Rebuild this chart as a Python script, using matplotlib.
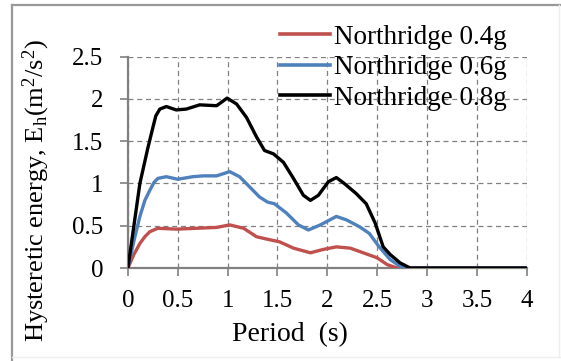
"""Hysteretic energy vs period for Northridge records at three PGA levels."""

import matplotlib
matplotlib.use("Agg")
import matplotlib.pyplot as plt
from matplotlib.lines import Line2D

# period (s) and hysteretic energy Eh (m^2/s^2)
period_04 = [0.0, 0.06, 0.12, 0.17, 0.22, 0.30, 0.485, 0.69, 0.89, 1.02, 1.16,
             1.29, 1.40, 1.52, 1.66, 1.83, 1.96, 2.09, 2.23, 2.36, 2.50, 2.60,
             2.70, 3.0, 4.0]
energy_04 = [0.0, 0.16, 0.29, 0.37, 0.43, 0.47, 0.46, 0.47, 0.48, 0.51, 0.47,
             0.37, 0.34, 0.31, 0.235, 0.18, 0.22, 0.25, 0.235, 0.18, 0.12, 0.04,
             0.0, 0.0, 0.0]

period_06 = [0.0, 0.06, 0.12, 0.17, 0.22, 0.26, 0.30, 0.385, 0.50, 0.65, 0.755,
             0.89, 1.02, 1.12, 1.22, 1.32, 1.40, 1.47, 1.59, 1.71, 1.81, 1.93,
             2.09, 2.19, 2.32, 2.42, 2.52, 2.63, 2.73, 2.80, 3.0, 4.0]
energy_06 = [0.0, 0.32, 0.61, 0.80, 0.92, 1.01, 1.06, 1.08, 1.05, 1.08, 1.09,
             1.09, 1.14, 1.08, 0.96, 0.84, 0.78, 0.76, 0.65, 0.51, 0.45, 0.51,
             0.61, 0.57, 0.49, 0.41, 0.25, 0.10, 0.02, 0.0, 0.0, 0.0]

period_08 = [0.0, 0.06, 0.12, 0.20, 0.25, 0.28, 0.32, 0.385, 0.485, 0.585,
             0.72, 0.89, 0.995, 1.09, 1.19, 1.29, 1.37, 1.46, 1.56, 1.66, 1.76,
             1.83, 1.91, 2.01, 2.09, 2.17, 2.29, 2.39, 2.48, 2.56, 2.63, 2.73,
             2.83, 3.0, 4.0]
energy_08 = [0.0, 0.5, 1.0, 1.42, 1.66, 1.80, 1.88, 1.91, 1.87, 1.88,
             1.93, 1.92, 2.01, 1.94, 1.78, 1.55, 1.39, 1.35, 1.25, 1.06, 0.86,
             0.80, 0.86, 1.02, 1.07, 1.00, 0.88, 0.76, 0.53, 0.25, 0.16, 0.06,
             0.0, 0.0, 0.0]

labels = ["Northridge 0.4g", "Northridge 0.6g", "Northridge 0.8g"]
colors = ["#C0504D", "#4F81BD", "#000000"]

plt.rcParams["font.family"] = ["Liberation Serif", "DejaVu Serif"]
plt.rcParams["mathtext.fontset"] = "custom"
plt.rcParams["mathtext.rm"] = "Liberation Serif"
plt.rcParams["mathtext.it"] = "Liberation Serif"

fig = plt.figure(figsize=(5.61, 3.61), dpi=100)
ax = fig.add_axes([0.228, 0.2576, 0.711, 0.5854])

series = [(period_04, energy_04), (period_06, energy_06), (period_08, energy_08)]
for (x, y), c, lab in zip(series, colors, labels):
    ax.plot(x, y, color=c, linewidth=2.4, label=lab, solid_joinstyle="round",
            solid_capstyle="round", zorder=3)

ax.set_xlim(0, 4)
ax.set_ylim(0, 2.5)
ax.set_xticks([0, 0.5, 1, 1.5, 2, 2.5, 3, 3.5, 4])
ax.set_xticklabels(["0", "0.5", "1", "1.5", "2", "2.5", "3", "3.5", "4"])
ax.set_yticks([0, 0.5, 1, 1.5, 2, 2.5])
ax.set_yticklabels(["0", "0.5", "1", "1.5", "2", "2.5"])

ax.grid(True, color="#808080", linestyle=(0, (4, 3)), linewidth=0.9)
for side in ["top", "right"]:
    ax.spines[side].set_visible(False)
for side in ["left", "bottom"]:
    ax.spines[side].set_color("#808080")
    ax.spines[side].set_linewidth(1.6)
    ax.spines[side].set_zorder(2.5)

ax.tick_params(axis="both", direction="out", length=5.8, width=1.2,
               color="#808080", labelsize=18)
ax.tick_params(axis="x", pad=10)
ax.tick_params(axis="y", pad=12)

ax.set_xlabel("Period  (s)", fontsize=20)
ax.xaxis.set_label_coords(0.406, -0.256)
ax.set_ylabel("Hysteretic energy, E$_{\\rm h}$(m$^2$/s$^2$)", fontsize=19)
ax.yaxis.set_label_coords(-0.19, 0.365)

handles = [Line2D([], [], color=c, linewidth=2.6) for c in colors]
fig.legend(handles, labels, loc="upper left", bbox_to_anchor=(0.499, 0.931),
           frameon=False, fontsize=19.5, handlelength=1.85, handletextpad=0.15,
           labelspacing=0.2, borderpad=0, borderaxespad=0)

# outer frame of the figure
fig.add_artist(Line2D([12 / 561, 12 / 561], [0, 1 - 5 / 361],
                      transform=fig.transFigure, color="#999999", linewidth=1.6))
fig.add_artist(Line2D([12 / 561, 1], [1 - 5 / 361, 1 - 5 / 361],
                      transform=fig.transFigure, color="#999999", linewidth=1.6))
fig.add_artist(Line2D([12 / 561, 1], [4 / 361, 4 / 361],
                      transform=fig.transFigure, color="#eeeeee", linewidth=1))
fig.add_artist(Line2D([559 / 561, 559 / 561], [4 / 361, 1 - 5 / 361],
                      transform=fig.transFigure, color="#eeeeee", linewidth=1))

fig.savefig("out.png", dpi=100)
